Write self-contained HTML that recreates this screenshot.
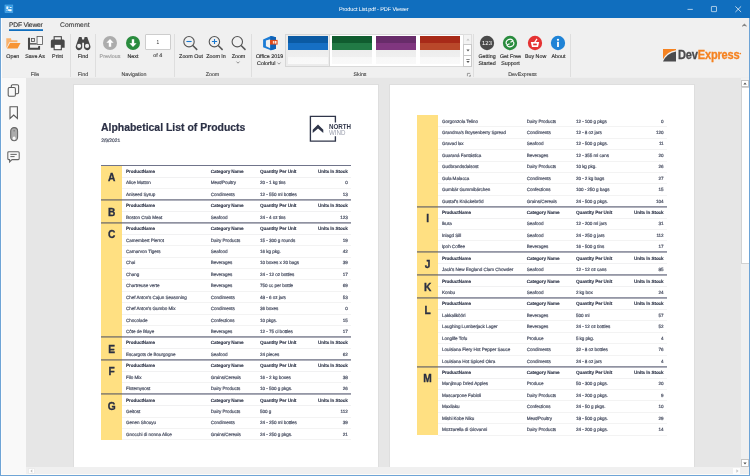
<!DOCTYPE html>
<html>
<head>
<meta charset="utf-8">
<title>Product List.pdf - PDF Viewer</title>
<style>
*{box-sizing:border-box;margin:0;padding:0}
html,body{width:750px;height:476px;overflow:hidden;background:#106ebe;font-family:"Liberation Sans",sans-serif;}
#win{position:absolute;left:0;top:0;width:750px;height:476px;background:#6ea4d6;overflow:hidden;will-change:transform}
#title{position:absolute;left:0;top:0;width:750px;height:18px;background:#106ebe;color:#fff}
#title .cap{position:absolute;left:0;width:747.6px;top:6.6px;text-align:center;font-size:5.6px;line-height:7px;color:#fff;letter-spacing:-0.14px;text-rendering:geometricPrecision}
#ribbon{position:absolute;left:1px;top:17.6px;width:748px;height:60.4px;background:#f0f0f0;border-bottom:1px solid #eeeeee}
#ribbon svg, #side svg, #title svg{position:absolute;overflow:visible}
.tab{position:absolute;top:4.3px;font-size:6.7px;line-height:8px;color:#3c3c3c;white-space:nowrap;letter-spacing:-0.2px;text-rendering:geometricPrecision;-webkit-text-stroke:0.12px}
.lbl{position:absolute;top:36.8px;font-size:5.35px;line-height:7px;color:#2e2e2e;text-rendering:geometricPrecision;-webkit-text-stroke:0.14px;text-align:center;white-space:nowrap;transform:translateX(-50%)}
.grp{position:absolute;top:54.7px;font-size:5.3px;line-height:7px;color:#484848;text-rendering:geometricPrecision;-webkit-text-stroke:0.12px;text-align:center;white-space:nowrap;transform:translateX(-50%)}
.sep{position:absolute;top:16px;width:1px;height:43px;background:#dedede}
#side{position:absolute;left:1px;top:78px;width:25px;height:397px;background:#f9f9f9}
#view{position:absolute;left:26px;top:78px;width:715px;height:389px;background:#e6e6e6;overflow:hidden}
#vsb{position:absolute;left:741px;top:78px;width:8px;height:389px;background:#f0f0f0}
#hsb{position:absolute;left:26px;top:467px;width:723px;height:8px;background:#f0f0f0}
.page{position:absolute;top:7px;width:304px;height:400px;background:#fff;box-shadow:0 0 0 1px #dedede}
.t{position:absolute;font-size:4.6px;line-height:6px;color:#4c5265;white-space:nowrap;text-rendering:geometricPrecision;letter-spacing:-0.05px;-webkit-text-stroke:0.2px #4c5265}
.b{font-weight:bold;color:#343a4d;-webkit-text-stroke:0.12px #343a4d;letter-spacing:-0.07px}
.r{text-align:right}
.ycol{position:absolute;background:#ffe082}
.hl{position:absolute;height:1px;background:#f3f3f3}
.hl2{position:absolute;height:1px;background:#f1f1f2}
.gl0{position:absolute;height:1px;background:#70748a}
.gl{position:absolute;height:2px;background:linear-gradient(rgba(66,70,96,0.56) 0,rgba(66,70,96,0.56) 50%,rgba(66,70,96,0.42) 50%,rgba(66,70,96,0.42) 100%)}
.let{position:absolute;font-size:10.2px;line-height:10px;font-weight:bold;color:#2a2f42;text-align:center;-webkit-text-stroke:0.3px #2a2f42}
</style>
</head>
<body>
<div id="win">
  <div id="title">
    <svg style="left:5px;top:5px" width="7.8" height="7.6" viewBox="0 0 7.8 7.6"><rect width="7.8" height="7.6" fill="#2f97e2"/><rect x="0" y="0" width="7.8" height="7.6" fill="none" stroke="#5cb3ee" stroke-width="0.6"/><rect x="1.3" y="1.4" width="1.9" height="2.6" fill="#eaf5fd"/><rect x="3.4" y="1.6" width="1.1" height="1.1" fill="#cfe7f9"/><rect x="5" y="2" width="1.6" height="0.9" fill="#fff"/><path d="M2.6 4.3 L6.6 4.3 L6.6 6.3 L4.6 6.3 L2.6 5.6 Z" fill="#fff"/><rect x="1.4" y="4.6" width="1" height="1.6" fill="#bfe0f8"/></svg>
    <div class="cap">Product List.pdf - PDF Viewer</div>
    <svg style="left:687px;top:8px" width="7" height="3" viewBox="0 0 7 3"><rect x="0.5" y="0.9" width="5.3" height="0.85" fill="#fff" opacity="0.78"/></svg>
    <svg style="left:710px;top:5px" width="8" height="8" viewBox="0 0 8 8"><rect x="1.4" y="1.45" width="5.1" height="5.2" rx="0.5" fill="none" stroke="#fff" stroke-width="0.85" opacity="0.75"/></svg>
    <svg style="left:734px;top:5px" width="8" height="8" viewBox="0 0 8 8"><path d="M1.4 1.4 L7.1 7 M7.1 1.4 L1.4 7" stroke="#fff" stroke-width="0.85" fill="none" opacity="0.85"/></svg>
  </div>

  <div id="ribbon">
    <!-- tabs -->
    <div class="tab" style="left:8px;color:#333">PDF Viewer</div>
    <div style="position:absolute;left:8px;top:11.4px;width:34px;height:2px;background:linear-gradient(rgba(16,110,190,0.8) 0,rgba(16,110,190,0.8) 50%,#106ebe 50%,#106ebe 100%)"></div>
    <div class="tab" style="left:59px;letter-spacing:0.1px">Comment</div>
    <svg style="left:740px;top:5px" width="7" height="5" viewBox="0 0 7 5"><path d="M1.3 3.4 L3.4 1.3 L5.5 3.4" stroke="#868686" stroke-width="1.05" fill="none"/></svg>

    <!-- separators -->
    <div class="sep" style="left:68.6px"></div>
    <div class="sep" style="left:93.8px"></div>
    <div class="sep" style="left:172.6px"></div>
    <div class="sep" style="left:249.6px"></div>
    <div class="sep" style="left:471.6px"></div>
    <div class="sep" style="left:569.2px"></div>

    <!-- FILE group -->
    <!-- open -->
    <svg style="left:5px;top:19px" width="15" height="14" viewBox="0 0 15 14"><path d="M0.3 1.3 L5 1.3 L5.4 3.2 L11.4 3.2 L11.4 5.3 L3.3 5.3 L0.8 10.6 L0.3 10.4 Z" fill="#f9b26c"/><path d="M4 6.1 L14.5 6.1 L11.6 11.4 L1 11.4 Z" fill="#f79433"/></svg>
    <div class="lbl" style="left:11.8px">Open</div>
    <!-- save as -->
    <svg style="left:27px;top:18.4px" width="16" height="15" viewBox="28 36 16 15"><path d="M29 37.8 L29 48.7 L39.05 48.7 L39.05 46.1" fill="none" stroke="#474747" stroke-width="2.05" stroke-linejoin="miter"/><rect x="38.3" y="46.1" width="0.3" height="1" fill="#f0f0f0"/><path d="M30 43.85 L36.6 43.85" stroke="#505050" stroke-width="1.4"/><rect x="31.55" y="38.45" width="3" height="3" fill="#e6e6e6" stroke="#4c4c4c" stroke-width="0.8"/><rect x="37.05" y="36.55" width="5.5" height="8" fill="#f6f6f6" stroke="#555" stroke-width="0.8"/></svg>
    <div class="lbl" style="left:34px">Save As</div>
    <!-- print -->
    <svg style="left:49px;top:18.4px" width="14" height="15" viewBox="-0.75 0 14 15"><rect x="3.4" y="0.7" width="7.2" height="4" fill="#f7f7f7" stroke="#484848" stroke-width="1.1"/><path d="M1.6 3.5 L12.4 3.5 Q13.9 3.5 13.9 5 L13.9 11.7 L0.1 11.7 L0.1 5 Q0.1 3.5 1.6 3.5 Z" fill="#484848"/><rect x="3.4" y="8.3" width="7.2" height="5.4" fill="#f7f7f7" stroke="#484848" stroke-width="1.1"/></svg>
    <div class="lbl" style="left:56.6px">Print</div>
    <div class="grp" style="left:34px">File</div>

    <!-- FIND group -->
    <svg style="left:75px;top:19.4px" width="15" height="13" viewBox="0.4 0.5 15 13"><path d="M3.4 0.6 L6 0.6 L6.6 3 L8.4 3 L9 0.6 L11.6 0.6 L14.6 9 A3.3 3.3 0 1 1 8.4 9.6 L8.4 6.2 L6.6 6.2 L6.6 9.6 A3.3 3.3 0 1 1 0.4 9 Z" fill="#484848"/><circle cx="3.5" cy="9.4" r="2.05" fill="#f0f0f0"/><circle cx="11.5" cy="9.4" r="2.05" fill="#f0f0f0"/></svg>
    <div class="lbl" style="left:82px">Find</div>
    <div class="grp" style="left:82px">Find</div>

    <!-- NAVIGATION -->
    <svg style="left:102px;top:18.4px" width="14" height="14" viewBox="0 0 14 14"><circle cx="7" cy="7" r="7" fill="#acacac"/><path d="M7 3 L10.6 6.8 L8.2 6.8 L8.2 10.8 L5.8 10.8 L5.8 6.8 L3.4 6.8 Z" fill="#fff"/></svg>
    <div class="lbl" style="left:109px;color:#9a9a9a">Previous</div>
    <svg style="left:125px;top:18.4px" width="14" height="14" viewBox="0 0 14 14"><circle cx="7" cy="7" r="7" fill="#2a8c3e"/><path d="M7 11 L10.6 7.2 L8.2 7.2 L8.2 3.2 L5.8 3.2 L5.8 7.2 L3.4 7.2 Z" fill="#fff"/></svg>
    <div class="lbl" style="left:132px">Next</div>
    <div style="position:absolute;left:144.2px;top:16.6px;width:25.4px;height:16px;border-radius:1px;background:#fff;border:1px solid #cdcdcd;font-size:4.8px;line-height:15px;text-align:center;color:#333">1</div>
    <div class="lbl" style="left:156.8px;top:35.4px;color:#444">of 4</div>
    <div class="grp" style="left:133px">Navigation</div>

    <!-- ZOOM -->
    <svg style="left:182px;top:18.4px" width="15" height="15" viewBox="0 0 15 15"><circle cx="6" cy="5.7" r="5.2" fill="#f1f1f1" stroke="#555" stroke-width="1.1"/><path d="M9.8 9.5 L14.2 13.9" stroke="#555" stroke-width="1.5"/><path d="M3.4 5.5 L8.6 5.5" stroke="#1878d0" stroke-width="1.1"/></svg>
    <div class="lbl" style="left:190px">Zoom Out</div>
    <svg style="left:207px;top:18.4px" width="15" height="15" viewBox="0 0 15 15"><circle cx="6.4" cy="5.7" r="5.2" fill="#f1f1f1" stroke="#555" stroke-width="1.1"/><path d="M10.2 9.5 L14.6 13.9" stroke="#555" stroke-width="1.5"/><path d="M3.9 5.5 L9.1 5.5 M6.5 2.9 L6.5 8.1" stroke="#1878d0" stroke-width="1.1"/></svg>
    <div class="lbl" style="left:215px">Zoom In</div>
    <svg style="left:230px;top:18.4px" width="15" height="15" viewBox="0 0 15 15"><circle cx="6.3" cy="5.7" r="5.2" fill="#f1f1f1" stroke="#555" stroke-width="1.1"/><path d="M10.1 9.5 L14.5 13.9" stroke="#555" stroke-width="1.5"/></svg>
    <div class="lbl" style="left:237.5px">Zoom</div>
    <svg style="left:235px;top:43.9px" width="4" height="3" viewBox="0 0 4 3"><path d="M0.5 0.6 L2 2.2 L3.5 0.6" stroke="#666" stroke-width="0.7" fill="none"/></svg>
    <div class="grp" style="left:211.5px">Zoom</div>

    <!-- SKINS -->
    <svg style="left:261px;top:18.5px" width="17" height="15" viewBox="0 0 17 15"><path fill-rule="evenodd" d="M1.1 3.4 L8.9 0 L14 1.2 L14 12.8 L8.9 14.2 L1.1 11.2 Z M3.9 4.5 L8.3 3.2 L8.3 12.2 L3.9 10.3 Z" fill="#1c7cd5"/><path d="M8.3 0.3 L8.9 0 L14 1.2 L14 12.8 L8.9 14.2 L8.3 14 Z" fill="#0e62b8"/><rect x="8" y="3.9" width="7.6" height="4.7" fill="#e04a1a"/><rect x="10.9" y="5" width="0.9" height="2.6" fill="#fff"/><rect x="12.6" y="5" width="1.9" height="2.6" fill="#fff" opacity="0.9"/></svg>
    <div class="lbl" style="left:268.5px">Office 2019</div>
    <div class="lbl" style="left:265.3px;top:43.0px">Colorful</div>
    <svg style="left:276.4px;top:44px" width="4" height="3" viewBox="0 0 4 3"><path d="M0.5 0.6 L2 2.2 L3.5 0.6" stroke="#666" stroke-width="0.7" fill="none"/></svg>
    <!-- gallery -->
    <div style="position:absolute;left:284px;top:16px;width:187px;height:33.6px;background:#fff;border:1px solid #dadada"></div>
    <div style="position:absolute;left:284.3px;top:16.2px;width:45px;height:33.2px;background:#ececec;border:1px solid #d6d6d6"></div>
    <!-- swatches -->
    <div style="position:absolute;left:287px;top:18.4px;width:40px;height:28.6px;background:linear-gradient(to bottom,rgba(255,255,255,0) 0.5px,#0b5aa3 0.5px,#0b5aa3 6.7px,#166fc4 6.7px,#166fc4 14.3px,#ededed 14.3px,#efefef 20.6px,#f7f7f7 20.6px,#f9f9f9 27.9px,rgba(255,255,255,0) 27.9px)"></div>
    <div style="position:absolute;left:331px;top:18.4px;width:40px;height:28.6px;background:linear-gradient(to bottom,rgba(255,255,255,0) 0.5px,#105c2f 0.5px,#105c2f 6.7px,#217a45 6.7px,#217a45 14.3px,#ededed 14.3px,#efefef 20.6px,#f7f7f7 20.6px,#f9f9f9 27.9px,rgba(255,255,255,0) 27.9px)"></div>
    <div style="position:absolute;left:375px;top:18.4px;width:40px;height:28.6px;background:linear-gradient(to bottom,rgba(255,255,255,0) 0.5px,#682c6a 0.5px,#682c6a 6.7px,#80367f 6.7px,#80367f 14.3px,#ededed 14.3px,#efefef 20.6px,#f7f7f7 20.6px,#f9f9f9 27.9px,rgba(255,255,255,0) 27.9px)"></div>
    <div style="position:absolute;left:419px;top:18.4px;width:40px;height:28.6px;background:linear-gradient(to bottom,rgba(255,255,255,0) 0.5px,#a82a18 0.5px,#a82a18 6.7px,#b9482a 6.7px,#b9482a 14.3px,#ededed 14.3px,#efefef 20.6px,#f7f7f7 20.6px,#f9f9f9 27.9px,rgba(255,255,255,0) 27.9px)"></div>
    <!-- gallery buttons -->
    <div style="position:absolute;left:462.4px;top:16.2px;width:8.8px;height:11px;background:#f3f3f3;border:1px solid #dedede"></div>
    <div style="position:absolute;left:462.4px;top:26.6px;width:8.8px;height:11.4px;background:#fff;border:1px solid #c8c8c8"></div>
    <div style="position:absolute;left:462.4px;top:37.4px;width:8.8px;height:12.4px;background:#fff;border:1px solid #c8c8c8"></div>
    <svg style="left:464.8px;top:20.2px" width="4" height="3" viewBox="0 0 4 3"><path d="M0.4 2.4 L2 0.6 L3.6 2.4 Z" fill="#c4c4c4"/></svg>
    <svg style="left:464.8px;top:31px" width="4" height="3" viewBox="0 0 4 3"><path d="M0.4 0.6 L2 2.4 L3.6 0.6 Z" fill="#555"/></svg>
    <svg style="left:464.8px;top:41.4px" width="4" height="5" viewBox="0 0 4 5"><path d="M0.3 0.5 L3.7 0.5" stroke="#555" stroke-width="0.7"/><path d="M0.4 2 L2 3.9 L3.6 2 Z" fill="#555"/></svg>
    <svg style="left:466px;top:55.5px" width="4" height="4" viewBox="0 0 4 4"><path d="M0.4 3.2 L0.4 0.4 L3.2 0.4" stroke="#777" stroke-width="0.7" fill="none"/><path d="M3.6 1.6 L3.6 3.6 L1.6 3.6 Z" fill="#777"/></svg>
    <div class="grp" style="left:359px">Skins</div>

    <!-- DEVEXPRESS -->
    <svg style="left:479px;top:18.8px" width="14" height="14" viewBox="0 0 14 14"><circle cx="7" cy="7" r="7.15" fill="#4a4a4a"/><text x="7" y="9" font-size="5.9" font-family="Liberation Sans, sans-serif" fill="#fff" text-anchor="middle" style="text-rendering:geometricPrecision">123</text></svg>
    <div class="lbl" style="left:486px">Getting</div>
    <div class="lbl" style="left:486px;top:43.0px">Started</div>
    <svg style="left:502.2px;top:18.8px" width="14" height="14" viewBox="0 0 14 14"><circle cx="7" cy="7" r="7.15" fill="#2a8c3e"/><path d="M3.6 8.2 A3.6 3.2 0 0 1 10.2 5 L7.4 6.2" fill="none" stroke="#fff" stroke-width="1.2"/><path d="M10.4 5.8 A3.6 3.2 0 0 1 3.8 9 L6.6 7.8" fill="none" stroke="#fff" stroke-width="1.2"/></svg>
    <div class="lbl" style="left:509.5px">Get Free</div>
    <div class="lbl" style="left:509.5px;top:43.0px">Support</div>
    <svg style="left:527.4px;top:18.8px" width="14" height="14" viewBox="0 0 14 14"><circle cx="7" cy="7" r="7.15" fill="#e53333"/><path d="M2.8 6 L11.2 6 L10 10.9 L4 10.9 Z" fill="#fff"/><rect x="5.2" y="7.6" width="3.6" height="1.7" fill="#e53333"/><path d="M6.4 6.8 L9 2.9" stroke="#fff" stroke-width="1.2"/></svg>
    <div class="lbl" style="left:534.6px">Buy Now</div>
    <svg style="left:550.4px;top:18.8px" width="14" height="14" viewBox="0 0 14 14"><circle cx="7" cy="7" r="7.15" fill="#1f83d6"/><rect x="6.1" y="5.8" width="1.8" height="5.2" fill="#fff"/><circle cx="7" cy="3.8" r="1.1" fill="#fff"/></svg>
    <div class="lbl" style="left:557.4px">About</div>
    <div class="grp" style="left:521.5px">DevExpress</div>

    <!-- logo -->
    <svg style="left:662px;top:31.6px" width="13" height="12.4" viewBox="0 0 13 12.4"><path d="M0 0 L13 0 L13 1.2 Q4 2.4 0 10.2 Z" fill="#f58220"/><path d="M13 2.4 L13 12.4 L0 12.4 Q3.6 4.2 13 2.4 Z" fill="#4b4b4d"/></svg>
    <div style="position:absolute;left:677.2px;top:31.2px;font-size:11.9px;line-height:13px;font-weight:bold;white-space:nowrap;transform:scaleX(0.93);transform-origin:left center;letter-spacing:-0.2px;-webkit-text-stroke:0.3px"><span style="color:#4b4b4d">Dev</span><span style="color:#f58220">Express</span></div>
    <svg style="left:738px;top:34px" width="3" height="3" viewBox="0 0 3 3"><circle cx="1.3" cy="1.5" r="0.85" fill="#f58220"/></svg>
  </div>

  <div id="side">
    <svg style="left:6px;top:6px" width="13" height="14" viewBox="0 0 13 14"><rect x="4.3" y="0.75" width="7.3" height="9" rx="1.3" fill="#f9f9f9" stroke="#5a5a5a" stroke-width="1.05"/><rect x="1.2" y="3.5" width="7.2" height="8.8" rx="1.3" fill="#f9f9f9" stroke="#5a5a5a" stroke-width="1.05"/></svg>
    <svg style="left:8px;top:27.5px" width="10" height="14" viewBox="0 0 10 14"><path d="M1 0.7 L8.4 0.7 L8.4 12.4 L4.7 9 L1 12.4 Z" fill="none" stroke="#5a5a5a" stroke-width="1.1"/></svg>
    <svg style="left:9px;top:49px" width="8" height="15" viewBox="0 0 8 15"><rect x="0.7" y="0.6" width="6.9" height="13.2" rx="3.45" fill="#acacac" stroke="#666" stroke-width="1.05"/><ellipse cx="4.1" cy="11.2" rx="1.45" ry="1.8" fill="#fafafa"/><rect x="3.6" y="3.2" width="1" height="1.2" fill="#666"/></svg>
    <svg style="left:6px;top:73px" width="14" height="12" viewBox="0 0 14 12"><path d="M1.8 0.7 L11.2 0.7 Q12.2 0.7 12.2 1.7 L12.2 7.6 Q12.2 8.6 11.2 8.6 L5 8.6 L2.6 10.9 L2.6 8.6 L1.8 8.6 Q0.8 8.6 0.8 7.6 L0.8 1.7 Q0.8 0.7 1.8 0.7 Z" fill="none" stroke="#666" stroke-width="1.05"/><path d="M3.4 3.4 L9.8 3.4 M3.4 5.6 L7.6 5.6" stroke="#555" stroke-width="0.9"/></svg>
  </div>

  <div id="view">
    <div class="page" id="p1" style="left:48px">
      <div style="position:absolute;left:27px;top:36.8px;font-size:10.45px;line-height:12px;font-weight:bold;color:#2c3146;white-space:nowrap;-webkit-text-stroke:0.2px #2c3146">Alphabetical List of Products</div>
      <div class="t" style="left:27.2px;top:53.6px;font-size:4.9px;letter-spacing:0">2/9/2021</div>
      <!-- logo -->
      <svg style="position:absolute;left:235px;top:30px;overflow:visible" width="44" height="28" viewBox="0 0 44 28"><path d="M26.4 7.6 L26.4 1.4 L1.4 1.4 L1.4 26.1 L26.4 26.1 L26.4 21.3" fill="none" stroke="#30364a" stroke-width="1.35"/><path d="M9 9.6 L14.3 14.8 L14.3 17.9 L9 13.6 L3.7 17.9 L3.7 14.8 Z" fill="#30364a"/><text x="19.9" y="13.6" font-size="6.7" font-weight="bold" font-family="Liberation Sans, sans-serif" fill="#30364a" textLength="22.1" lengthAdjust="spacingAndGlyphs">NORTH</text><text x="19.9" y="19.8" font-size="6.6" font-family="Liberation Sans, sans-serif" fill="#9a9eac" textLength="16.5" lengthAdjust="spacingAndGlyphs">WIND</text></svg>
<div class="ycol" style="left:27.1px;top:80.7px;width:21.2px;height:274.2px"></div>
<div class="gl0" style="left:27.1px;top:80.1px;width:250.3px"></div>
<div class="let" style="left:27.1px;top:88.22px;width:21.2px">A</div>
<div class="t b" style="left:52px;top:84.01px">ProductName</div>
<div class="t b" style="left:136.8px;top:84.01px">Category Name</div>
<div class="t b" style="left:186px;top:84.01px">Quantity Per Unit</div>
<div class="t b r" style="left:213.7px;top:84.01px;width:60px">Units In Stock</div>
<div class="hl2" style="left:48.3px;top:91.62px;width:229.1px"></div>
<div class="t" style="left:52px;top:95.44px">Alice Mutton</div>
<div class="t" style="left:136.8px;top:95.44px">Meat/Poultry</div>
<div class="t" style="left:186px;top:95.44px">20 - 1 kg tins</div>
<div class="t r" style="left:213.7px;top:95.44px;width:60px">0</div>
<div class="hl" style="left:48.3px;top:103.05px;width:229.1px"></div>
<div class="t" style="left:52px;top:106.86px">Aniseed Syrup</div>
<div class="t" style="left:136.8px;top:106.86px">Condiments</div>
<div class="t" style="left:186px;top:106.86px">12 - 550 ml bottles</div>
<div class="t r" style="left:213.7px;top:106.86px;width:60px">13</div>
<div class="hl" style="left:48.3px;top:114.47px;width:229.1px"></div>
<div class="gl" style="left:27.1px;top:113.97px;width:250.3px"></div>
<div class="let" style="left:27.1px;top:122.5px;width:21.2px">B</div>
<div class="t b" style="left:52px;top:118.29px">ProductName</div>
<div class="t b" style="left:136.8px;top:118.29px">Category Name</div>
<div class="t b" style="left:186px;top:118.29px">Quantity Per Unit</div>
<div class="t b r" style="left:213.7px;top:118.29px;width:60px">Units In Stock</div>
<div class="hl2" style="left:48.3px;top:125.9px;width:229.1px"></div>
<div class="t" style="left:52px;top:129.71px">Boston Crab Meat</div>
<div class="t" style="left:136.8px;top:129.71px">Seafood</div>
<div class="t" style="left:186px;top:129.71px">24 - 4 oz tins</div>
<div class="t r" style="left:213.7px;top:129.71px;width:60px">123</div>
<div class="hl" style="left:48.3px;top:137.32px;width:229.1px"></div>
<div class="gl" style="left:27.1px;top:136.82px;width:250.3px"></div>
<div class="let" style="left:27.1px;top:145.35px;width:21.2px">C</div>
<div class="t b" style="left:52px;top:141.14px">ProductName</div>
<div class="t b" style="left:136.8px;top:141.14px">Category Name</div>
<div class="t b" style="left:186px;top:141.14px">Quantity Per Unit</div>
<div class="t b r" style="left:213.7px;top:141.14px;width:60px">Units In Stock</div>
<div class="hl2" style="left:48.3px;top:148.75px;width:229.1px"></div>
<div class="t" style="left:52px;top:152.56px">Camembert Pierrot</div>
<div class="t" style="left:136.8px;top:152.56px">Dairy Products</div>
<div class="t" style="left:186px;top:152.56px">15 - 300 g rounds</div>
<div class="t r" style="left:213.7px;top:152.56px;width:60px">19</div>
<div class="hl" style="left:48.3px;top:160.18px;width:229.1px"></div>
<div class="t" style="left:52px;top:163.99px">Carnarvon Tigers</div>
<div class="t" style="left:136.8px;top:163.99px">Seafood</div>
<div class="t" style="left:186px;top:163.99px">16 kg pkg.</div>
<div class="t r" style="left:213.7px;top:163.99px;width:60px">42</div>
<div class="hl" style="left:48.3px;top:171.6px;width:229.1px"></div>
<div class="t" style="left:52px;top:175.41px">Chai</div>
<div class="t" style="left:136.8px;top:175.41px">Beverages</div>
<div class="t" style="left:186px;top:175.41px">10 boxes x 20 bags</div>
<div class="t r" style="left:213.7px;top:175.41px;width:60px">39</div>
<div class="hl" style="left:48.3px;top:183.03px;width:229.1px"></div>
<div class="t" style="left:52px;top:186.84px">Chang</div>
<div class="t" style="left:136.8px;top:186.84px">Beverages</div>
<div class="t" style="left:186px;top:186.84px">24 - 12 oz bottles</div>
<div class="t r" style="left:213.7px;top:186.84px;width:60px">17</div>
<div class="hl" style="left:48.3px;top:194.45px;width:229.1px"></div>
<div class="t" style="left:52px;top:198.26px">Chartreuse verte</div>
<div class="t" style="left:136.8px;top:198.26px">Beverages</div>
<div class="t" style="left:186px;top:198.26px">750 cc per bottle</div>
<div class="t r" style="left:213.7px;top:198.26px;width:60px">69</div>
<div class="hl" style="left:48.3px;top:205.88px;width:229.1px"></div>
<div class="t" style="left:52px;top:209.69px">Chef Anton's Cajun Seasoning</div>
<div class="t" style="left:136.8px;top:209.69px">Condiments</div>
<div class="t" style="left:186px;top:209.69px">48 - 6 oz jars</div>
<div class="t r" style="left:213.7px;top:209.69px;width:60px">53</div>
<div class="hl" style="left:48.3px;top:217.3px;width:229.1px"></div>
<div class="t" style="left:52px;top:221.11px">Chef Anton's Gumbo Mix</div>
<div class="t" style="left:136.8px;top:221.11px">Condiments</div>
<div class="t" style="left:186px;top:221.11px">36 boxes</div>
<div class="t r" style="left:213.7px;top:221.11px;width:60px">0</div>
<div class="hl" style="left:48.3px;top:228.73px;width:229.1px"></div>
<div class="t" style="left:52px;top:232.54px">Chocolade</div>
<div class="t" style="left:136.8px;top:232.54px">Confections</div>
<div class="t" style="left:186px;top:232.54px">10 pkgs.</div>
<div class="t r" style="left:213.7px;top:232.54px;width:60px">15</div>
<div class="hl" style="left:48.3px;top:240.15px;width:229.1px"></div>
<div class="t" style="left:52px;top:243.96px">Côte de Blaye</div>
<div class="t" style="left:136.8px;top:243.96px">Beverages</div>
<div class="t" style="left:186px;top:243.96px">12 - 75 cl bottles</div>
<div class="t r" style="left:213.7px;top:243.96px;width:60px">17</div>
<div class="hl" style="left:48.3px;top:251.58px;width:229.1px"></div>
<div class="gl" style="left:27.1px;top:251.08px;width:250.3px"></div>
<div class="let" style="left:27.1px;top:259.6px;width:21.2px">E</div>
<div class="t b" style="left:52px;top:255.39px">ProductName</div>
<div class="t b" style="left:136.8px;top:255.39px">Category Name</div>
<div class="t b" style="left:186px;top:255.39px">Quantity Per Unit</div>
<div class="t b r" style="left:213.7px;top:255.39px;width:60px">Units In Stock</div>
<div class="hl2" style="left:48.3px;top:263px;width:229.1px"></div>
<div class="t" style="left:52px;top:266.81px">Escargots de Bourgogne</div>
<div class="t" style="left:136.8px;top:266.81px">Seafood</div>
<div class="t" style="left:186px;top:266.81px">24 pieces</div>
<div class="t r" style="left:213.7px;top:266.81px;width:60px">62</div>
<div class="hl" style="left:48.3px;top:274.43px;width:229.1px"></div>
<div class="gl" style="left:27.1px;top:273.93px;width:250.3px"></div>
<div class="let" style="left:27.1px;top:282.45px;width:21.2px">F</div>
<div class="t b" style="left:52px;top:278.24px">ProductName</div>
<div class="t b" style="left:136.8px;top:278.24px">Category Name</div>
<div class="t b" style="left:186px;top:278.24px">Quantity Per Unit</div>
<div class="t b r" style="left:213.7px;top:278.24px;width:60px">Units In Stock</div>
<div class="hl2" style="left:48.3px;top:285.85px;width:229.1px"></div>
<div class="t" style="left:52px;top:289.66px">Filo Mix</div>
<div class="t" style="left:136.8px;top:289.66px">Grains/Cereals</div>
<div class="t" style="left:186px;top:289.66px">16 - 2 kg boxes</div>
<div class="t r" style="left:213.7px;top:289.66px;width:60px">38</div>
<div class="hl" style="left:48.3px;top:297.28px;width:229.1px"></div>
<div class="t" style="left:52px;top:301.09px">Flotemysost</div>
<div class="t" style="left:136.8px;top:301.09px">Dairy Products</div>
<div class="t" style="left:186px;top:301.09px">10 - 500 g pkgs.</div>
<div class="t r" style="left:213.7px;top:301.09px;width:60px">26</div>
<div class="hl" style="left:48.3px;top:308.7px;width:229.1px"></div>
<div class="gl" style="left:27.1px;top:308.2px;width:250.3px"></div>
<div class="let" style="left:27.1px;top:316.73px;width:21.2px">G</div>
<div class="t b" style="left:52px;top:312.51px">ProductName</div>
<div class="t b" style="left:136.8px;top:312.51px">Category Name</div>
<div class="t b" style="left:186px;top:312.51px">Quantity Per Unit</div>
<div class="t b r" style="left:213.7px;top:312.51px;width:60px">Units In Stock</div>
<div class="hl2" style="left:48.3px;top:320.13px;width:229.1px"></div>
<div class="t" style="left:52px;top:323.94px">Geitost</div>
<div class="t" style="left:136.8px;top:323.94px">Dairy Products</div>
<div class="t" style="left:186px;top:323.94px">500 g</div>
<div class="t r" style="left:213.7px;top:323.94px;width:60px">112</div>
<div class="hl" style="left:48.3px;top:331.55px;width:229.1px"></div>
<div class="t" style="left:52px;top:335.36px">Genen Shouyu</div>
<div class="t" style="left:136.8px;top:335.36px">Condiments</div>
<div class="t" style="left:186px;top:335.36px">24 - 250 ml bottles</div>
<div class="t r" style="left:213.7px;top:335.36px;width:60px">39</div>
<div class="hl" style="left:48.3px;top:342.98px;width:229.1px"></div>
<div class="t" style="left:52px;top:346.79px">Gnocchi di nonna Alice</div>
<div class="t" style="left:136.8px;top:346.79px">Grains/Cereals</div>
<div class="t" style="left:186px;top:346.79px">24 - 250 g pkgs.</div>
<div class="t r" style="left:213.7px;top:346.79px;width:60px">21</div>
<div class="hl" style="left:48.3px;top:354.4px;width:229.1px"></div>
    </div>
    <div class="page" id="p2" style="left:364px">
<div class="ycol" style="left:27px;top:30.3px;width:21.2px;height:319.9px"></div>
<div class="t" style="left:51.9px;top:33.61px">Gorgonzola Telino</div>
<div class="t" style="left:136.7px;top:33.61px">Dairy Products</div>
<div class="t" style="left:185.9px;top:33.61px">12 - 100 g pkgs</div>
<div class="t r" style="left:213.6px;top:33.61px;width:60px">0</div>
<div class="hl" style="left:48.2px;top:41.22px;width:229.1px"></div>
<div class="t" style="left:51.9px;top:45.04px">Grandma's Boysenberry Spread</div>
<div class="t" style="left:136.7px;top:45.04px">Condiments</div>
<div class="t" style="left:185.9px;top:45.04px">12 - 8 oz jars</div>
<div class="t r" style="left:213.6px;top:45.04px;width:60px">120</div>
<div class="hl" style="left:48.2px;top:52.65px;width:229.1px"></div>
<div class="t" style="left:51.9px;top:56.46px">Gravad lax</div>
<div class="t" style="left:136.7px;top:56.46px">Seafood</div>
<div class="t" style="left:185.9px;top:56.46px">12 - 500 g pkgs.</div>
<div class="t r" style="left:213.6px;top:56.46px;width:60px">11</div>
<div class="hl" style="left:48.2px;top:64.07px;width:229.1px"></div>
<div class="t" style="left:51.9px;top:67.89px">Guaraná Fantástica</div>
<div class="t" style="left:136.7px;top:67.89px">Beverages</div>
<div class="t" style="left:185.9px;top:67.89px">12 - 355 ml cans</div>
<div class="t r" style="left:213.6px;top:67.89px;width:60px">20</div>
<div class="hl" style="left:48.2px;top:75.5px;width:229.1px"></div>
<div class="t" style="left:51.9px;top:79.31px">Gudbrandsdalsost</div>
<div class="t" style="left:136.7px;top:79.31px">Dairy Products</div>
<div class="t" style="left:185.9px;top:79.31px">10 kg pkg.</div>
<div class="t r" style="left:213.6px;top:79.31px;width:60px">26</div>
<div class="hl" style="left:48.2px;top:86.92px;width:229.1px"></div>
<div class="t" style="left:51.9px;top:90.74px">Gula Malacca</div>
<div class="t" style="left:136.7px;top:90.74px">Condiments</div>
<div class="t" style="left:185.9px;top:90.74px">20 - 2 kg bags</div>
<div class="t r" style="left:213.6px;top:90.74px;width:60px">27</div>
<div class="hl" style="left:48.2px;top:98.35px;width:229.1px"></div>
<div class="t" style="left:51.9px;top:102.16px">Gumbär Gummibärchen</div>
<div class="t" style="left:136.7px;top:102.16px">Confections</div>
<div class="t" style="left:185.9px;top:102.16px">100 - 250 g bags</div>
<div class="t r" style="left:213.6px;top:102.16px;width:60px">15</div>
<div class="hl" style="left:48.2px;top:109.77px;width:229.1px"></div>
<div class="t" style="left:51.9px;top:113.59px">Gustaf's Knäckebröd</div>
<div class="t" style="left:136.7px;top:113.59px">Grains/Cereals</div>
<div class="t" style="left:185.9px;top:113.59px">24 - 500 g pkgs.</div>
<div class="t r" style="left:213.6px;top:113.59px;width:60px">104</div>
<div class="hl" style="left:48.2px;top:121.2px;width:229.1px"></div>
<div class="gl" style="left:27px;top:120.7px;width:250.3px"></div>
<div class="let" style="left:27px;top:129.22px;width:21.2px">I</div>
<div class="t b" style="left:51.9px;top:125.01px">ProductName</div>
<div class="t b" style="left:136.7px;top:125.01px">Category Name</div>
<div class="t b" style="left:185.9px;top:125.01px">Quantity Per Unit</div>
<div class="t b r" style="left:213.6px;top:125.01px;width:60px">Units In Stock</div>
<div class="hl2" style="left:48.2px;top:132.62px;width:229.1px"></div>
<div class="t" style="left:51.9px;top:136.44px">Ikura</div>
<div class="t" style="left:136.7px;top:136.44px">Seafood</div>
<div class="t" style="left:185.9px;top:136.44px">12 - 200 ml jars</div>
<div class="t r" style="left:213.6px;top:136.44px;width:60px">31</div>
<div class="hl" style="left:48.2px;top:144.05px;width:229.1px"></div>
<div class="t" style="left:51.9px;top:147.86px">Inlagd Sill</div>
<div class="t" style="left:136.7px;top:147.86px">Seafood</div>
<div class="t" style="left:185.9px;top:147.86px">24 - 250 g jars</div>
<div class="t r" style="left:213.6px;top:147.86px;width:60px">112</div>
<div class="hl" style="left:48.2px;top:155.47px;width:229.1px"></div>
<div class="t" style="left:51.9px;top:159.29px">Ipoh Coffee</div>
<div class="t" style="left:136.7px;top:159.29px">Beverages</div>
<div class="t" style="left:185.9px;top:159.29px">16 - 500 g tins</div>
<div class="t r" style="left:213.6px;top:159.29px;width:60px">17</div>
<div class="hl" style="left:48.2px;top:166.9px;width:229.1px"></div>
<div class="gl" style="left:27px;top:166.4px;width:250.3px"></div>
<div class="let" style="left:27px;top:174.93px;width:21.2px">J</div>
<div class="t b" style="left:51.9px;top:170.71px">ProductName</div>
<div class="t b" style="left:136.7px;top:170.71px">Category Name</div>
<div class="t b" style="left:185.9px;top:170.71px">Quantity Per Unit</div>
<div class="t b r" style="left:213.6px;top:170.71px;width:60px">Units In Stock</div>
<div class="hl2" style="left:48.2px;top:178.33px;width:229.1px"></div>
<div class="t" style="left:51.9px;top:182.14px">Jack's New England Clam Chowder</div>
<div class="t" style="left:136.7px;top:182.14px">Seafood</div>
<div class="t" style="left:185.9px;top:182.14px">12 - 12 oz cans</div>
<div class="t r" style="left:213.6px;top:182.14px;width:60px">85</div>
<div class="hl" style="left:48.2px;top:189.75px;width:229.1px"></div>
<div class="gl" style="left:27px;top:189.25px;width:250.3px"></div>
<div class="let" style="left:27px;top:197.78px;width:21.2px">K</div>
<div class="t b" style="left:51.9px;top:193.56px">ProductName</div>
<div class="t b" style="left:136.7px;top:193.56px">Category Name</div>
<div class="t b" style="left:185.9px;top:193.56px">Quantity Per Unit</div>
<div class="t b r" style="left:213.6px;top:193.56px;width:60px">Units In Stock</div>
<div class="hl2" style="left:48.2px;top:201.18px;width:229.1px"></div>
<div class="t" style="left:51.9px;top:204.99px">Konbu</div>
<div class="t" style="left:136.7px;top:204.99px">Seafood</div>
<div class="t" style="left:185.9px;top:204.99px">2 kg box</div>
<div class="t r" style="left:213.6px;top:204.99px;width:60px">24</div>
<div class="hl" style="left:48.2px;top:212.6px;width:229.1px"></div>
<div class="gl" style="left:27px;top:212.1px;width:250.3px"></div>
<div class="let" style="left:27px;top:220.63px;width:21.2px">L</div>
<div class="t b" style="left:51.9px;top:216.41px">ProductName</div>
<div class="t b" style="left:136.7px;top:216.41px">Category Name</div>
<div class="t b" style="left:185.9px;top:216.41px">Quantity Per Unit</div>
<div class="t b r" style="left:213.6px;top:216.41px;width:60px">Units In Stock</div>
<div class="hl2" style="left:48.2px;top:224.03px;width:229.1px"></div>
<div class="t" style="left:51.9px;top:227.84px">Lakkalikööri</div>
<div class="t" style="left:136.7px;top:227.84px">Beverages</div>
<div class="t" style="left:185.9px;top:227.84px">500 ml</div>
<div class="t r" style="left:213.6px;top:227.84px;width:60px">57</div>
<div class="hl" style="left:48.2px;top:235.45px;width:229.1px"></div>
<div class="t" style="left:51.9px;top:239.26px">Laughing Lumberjack Lager</div>
<div class="t" style="left:136.7px;top:239.26px">Beverages</div>
<div class="t" style="left:185.9px;top:239.26px">24 - 12 oz bottles</div>
<div class="t r" style="left:213.6px;top:239.26px;width:60px">52</div>
<div class="hl" style="left:48.2px;top:246.88px;width:229.1px"></div>
<div class="t" style="left:51.9px;top:250.69px">Longlife Tofu</div>
<div class="t" style="left:136.7px;top:250.69px">Produce</div>
<div class="t" style="left:185.9px;top:250.69px">5 kg pkg.</div>
<div class="t r" style="left:213.6px;top:250.69px;width:60px">4</div>
<div class="hl" style="left:48.2px;top:258.3px;width:229.1px"></div>
<div class="t" style="left:51.9px;top:262.11px">Louisiana Fiery Hot Pepper Sauce</div>
<div class="t" style="left:136.7px;top:262.11px">Condiments</div>
<div class="t" style="left:185.9px;top:262.11px">32 - 8 oz bottles</div>
<div class="t r" style="left:213.6px;top:262.11px;width:60px">76</div>
<div class="hl" style="left:48.2px;top:269.73px;width:229.1px"></div>
<div class="t" style="left:51.9px;top:273.54px">Louisiana Hot Spiced Okra</div>
<div class="t" style="left:136.7px;top:273.54px">Condiments</div>
<div class="t" style="left:185.9px;top:273.54px">24 - 8 oz jars</div>
<div class="t r" style="left:213.6px;top:273.54px;width:60px">4</div>
<div class="hl" style="left:48.2px;top:281.15px;width:229.1px"></div>
<div class="gl" style="left:27px;top:280.65px;width:250.3px"></div>
<div class="let" style="left:27px;top:289.18px;width:21.2px">M</div>
<div class="t b" style="left:51.9px;top:284.96px">ProductName</div>
<div class="t b" style="left:136.7px;top:284.96px">Category Name</div>
<div class="t b" style="left:185.9px;top:284.96px">Quantity Per Unit</div>
<div class="t b r" style="left:213.6px;top:284.96px;width:60px">Units In Stock</div>
<div class="hl2" style="left:48.2px;top:292.58px;width:229.1px"></div>
<div class="t" style="left:51.9px;top:296.39px">Manjimup Dried Apples</div>
<div class="t" style="left:136.7px;top:296.39px">Produce</div>
<div class="t" style="left:185.9px;top:296.39px">50 - 300 g pkgs.</div>
<div class="t r" style="left:213.6px;top:296.39px;width:60px">20</div>
<div class="hl" style="left:48.2px;top:304px;width:229.1px"></div>
<div class="t" style="left:51.9px;top:307.81px">Mascarpone Fabioli</div>
<div class="t" style="left:136.7px;top:307.81px">Dairy Products</div>
<div class="t" style="left:185.9px;top:307.81px">24 - 200 g pkgs.</div>
<div class="t r" style="left:213.6px;top:307.81px;width:60px">9</div>
<div class="hl" style="left:48.2px;top:315.43px;width:229.1px"></div>
<div class="t" style="left:51.9px;top:319.24px">Maxilaku</div>
<div class="t" style="left:136.7px;top:319.24px">Confections</div>
<div class="t" style="left:185.9px;top:319.24px">24 - 50 g pkgs.</div>
<div class="t r" style="left:213.6px;top:319.24px;width:60px">10</div>
<div class="hl" style="left:48.2px;top:326.85px;width:229.1px"></div>
<div class="t" style="left:51.9px;top:330.66px">Mishi Kobe Niku</div>
<div class="t" style="left:136.7px;top:330.66px">Meat/Poultry</div>
<div class="t" style="left:185.9px;top:330.66px">18 - 500 g pkgs.</div>
<div class="t r" style="left:213.6px;top:330.66px;width:60px">29</div>
<div class="hl" style="left:48.2px;top:338.28px;width:229.1px"></div>
<div class="t" style="left:51.9px;top:342.09px">Mozzarella di Giovanni</div>
<div class="t" style="left:136.7px;top:342.09px">Dairy Products</div>
<div class="t" style="left:185.9px;top:342.09px">24 - 200 g pkgs.</div>
<div class="t r" style="left:213.6px;top:342.09px;width:60px">14</div>
<div class="hl" style="left:48.2px;top:349.7px;width:229.1px"></div>
    </div>
  </div>

  <div id="vsb">
    <div style="position:absolute;left:0px;top:1.6px;width:7.6px;height:7.8px;background:#fff;border:1px solid #c4c4c4"></div>
    <svg style="position:absolute;left:1.8px;top:4.2px" width="4" height="3" viewBox="0 0 4 3"><path d="M0.3 2.4 L2 0.5 L3.7 2.4 Z" fill="#555"/></svg>
    <div style="position:absolute;left:0px;top:9.4px;width:7.6px;height:176.6px;background:#fff;border:1px solid #d2d2d2;border-right:none"></div>
    <div style="position:absolute;left:0px;top:381px;width:7.6px;height:7.8px;background:#fff;border:1px solid #c4c4c4"></div>
    <svg style="position:absolute;left:1.8px;top:383.8px" width="4" height="3" viewBox="0 0 4 3"><path d="M0.3 0.5 L2 2.5 L3.7 0.5 Z" fill="#555"/></svg>
  </div>
  <div id="hsb">
    <div style="position:absolute;left:2px;top:0.6px;width:7px;height:6.6px;background:#fff;border:1px solid #ececec"></div>
    <svg style="position:absolute;left:4px;top:1.8px" width="3" height="4" viewBox="0 0 3 4"><path d="M2.3 0.3 L0.4 2 L2.3 3.7 Z" fill="#bdbdbd"/></svg>
    <div style="position:absolute;left:707.2px;top:0.6px;width:6.9px;height:6.6px;background:#fdfdfd"></div>
    <svg style="position:absolute;left:709.8px;top:1.8px" width="3" height="4" viewBox="0 0 3 4"><path d="M0.4 0.2 L2.5 2 L0.4 3.8 Z" fill="#c4c4c4"/></svg>
  </div>
  <div style="position:absolute;left:1px;top:474px;width:748px;height:1px;background:#fefcf8"></div>
  <div style="position:absolute;left:1px;top:18px;width:1px;height:457px;background:#fdfdfd"></div>
</div>
</body>
</html>
